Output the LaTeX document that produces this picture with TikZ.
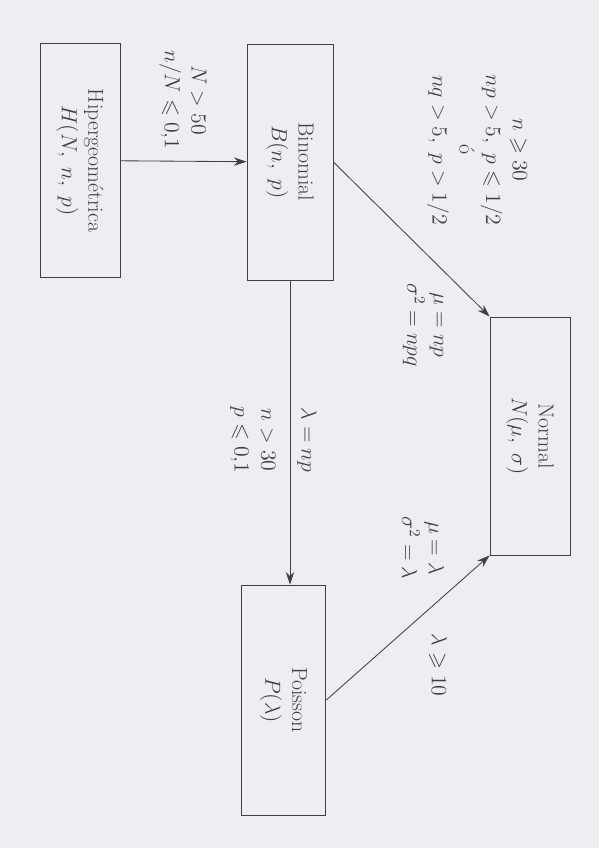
\RequirePackage{fix-cm}
\documentclass[tikz,border=0pt]{standalone}
\usepackage{amssymb}
\usepackage{amsmath}
\usepackage{fontspec}
\usetikzlibrary{arrows.meta}
\definecolor{paper}{RGB}{236,238,241}
\definecolor{ink}{RGB}{62,64,68}

\begin{document}
\begin{tikzpicture}[x=0.025cm,y=-0.025cm,->,>={Stealth[length=9pt,width=6pt]},
    line width=0.6pt,draw=ink,
    font=\fontsize{15.5}{19}\selectfont]

    \fill[paper,-] (0,0) rectangle (599,848);
    \useasboundingbox (0,0) rectangle (599,848);

    \node[rectangle,
          draw,
          minimum width = 2cm,
          minimum height = 5.83cm
          ] (hip) at (80,160.5) {};
    \node[rotate=-90, align=center, text=ink] at (hip.center) {Hipergeom\'etrica\\ $H(N,\ n,\ p)$};

    \node[rectangle,
          draw,
          minimum width = 2.15cm,
          minimum height = 5.9cm
          ] (bin) at (290,162) {};
    \node[rotate=-90, align=center, text=ink] at (bin.center) {Binomial\\ $B(n,\ p)$};

    \node[rectangle,
          draw,
          minimum width = 2cm,
          minimum height = 5.95cm
          ] (nor) at (530,436) {};
    \node[rotate=-90, align=center, text=ink] at (nor.center) {Normal\\ $N(\mu,\ \sigma)$};

    \node[rectangle,
          draw,
          minimum width = 2.12cm,
          minimum height = 5.75cm
          ] (poi) at (283.5,700) {};
    \node[rotate=-90, align=center, text=ink] at (poi.center) {Poisson\\ $P(\lambda)$};

    % conditions
    \node[rotate=-90, align=center, text=ink] (c1) at (183,100) {$N > 50$\\ $n/N \leqslant 0{,}1$};
    \node[rotate=-90, align=center, text=ink] (c2) at (477,150) {$n \geqslant 30$\\ $np > 5,\ p \leqslant 1/2$\\ \'o\\ $nq > 5,\ p > 1/2$};
    \node[rotate=-90, align=center, text=ink] (c3) at (423,325) {$\mu = np$\\ $\sigma^2 = npq$};
    \node[rotate=-90, align=center, text=ink] (c4) at (307,440) {$\lambda = np$};
    \node[rotate=-90, align=center, text=ink] (c4b) at (253,440) {$n > 30$\\ $p \leqslant 0{,}1$};
    \node[rotate=-90, align=center, text=ink] (c5) at (423,548) {$\mu = \lambda$\\ $\sigma^2 = \lambda$};
    \node[rotate=-90, align=center, text=ink] (c6) at (438,665) {$\lambda \geqslant 10$};

    \path
    (hip) edge [] (bin)
    (bin.south) edge [] (bin.south |- poi.north)
    (bin.east) edge [] (nor.north west)
    (poi.east) edge [] (nor.south west) ;

\end{tikzpicture}
\end{document}
